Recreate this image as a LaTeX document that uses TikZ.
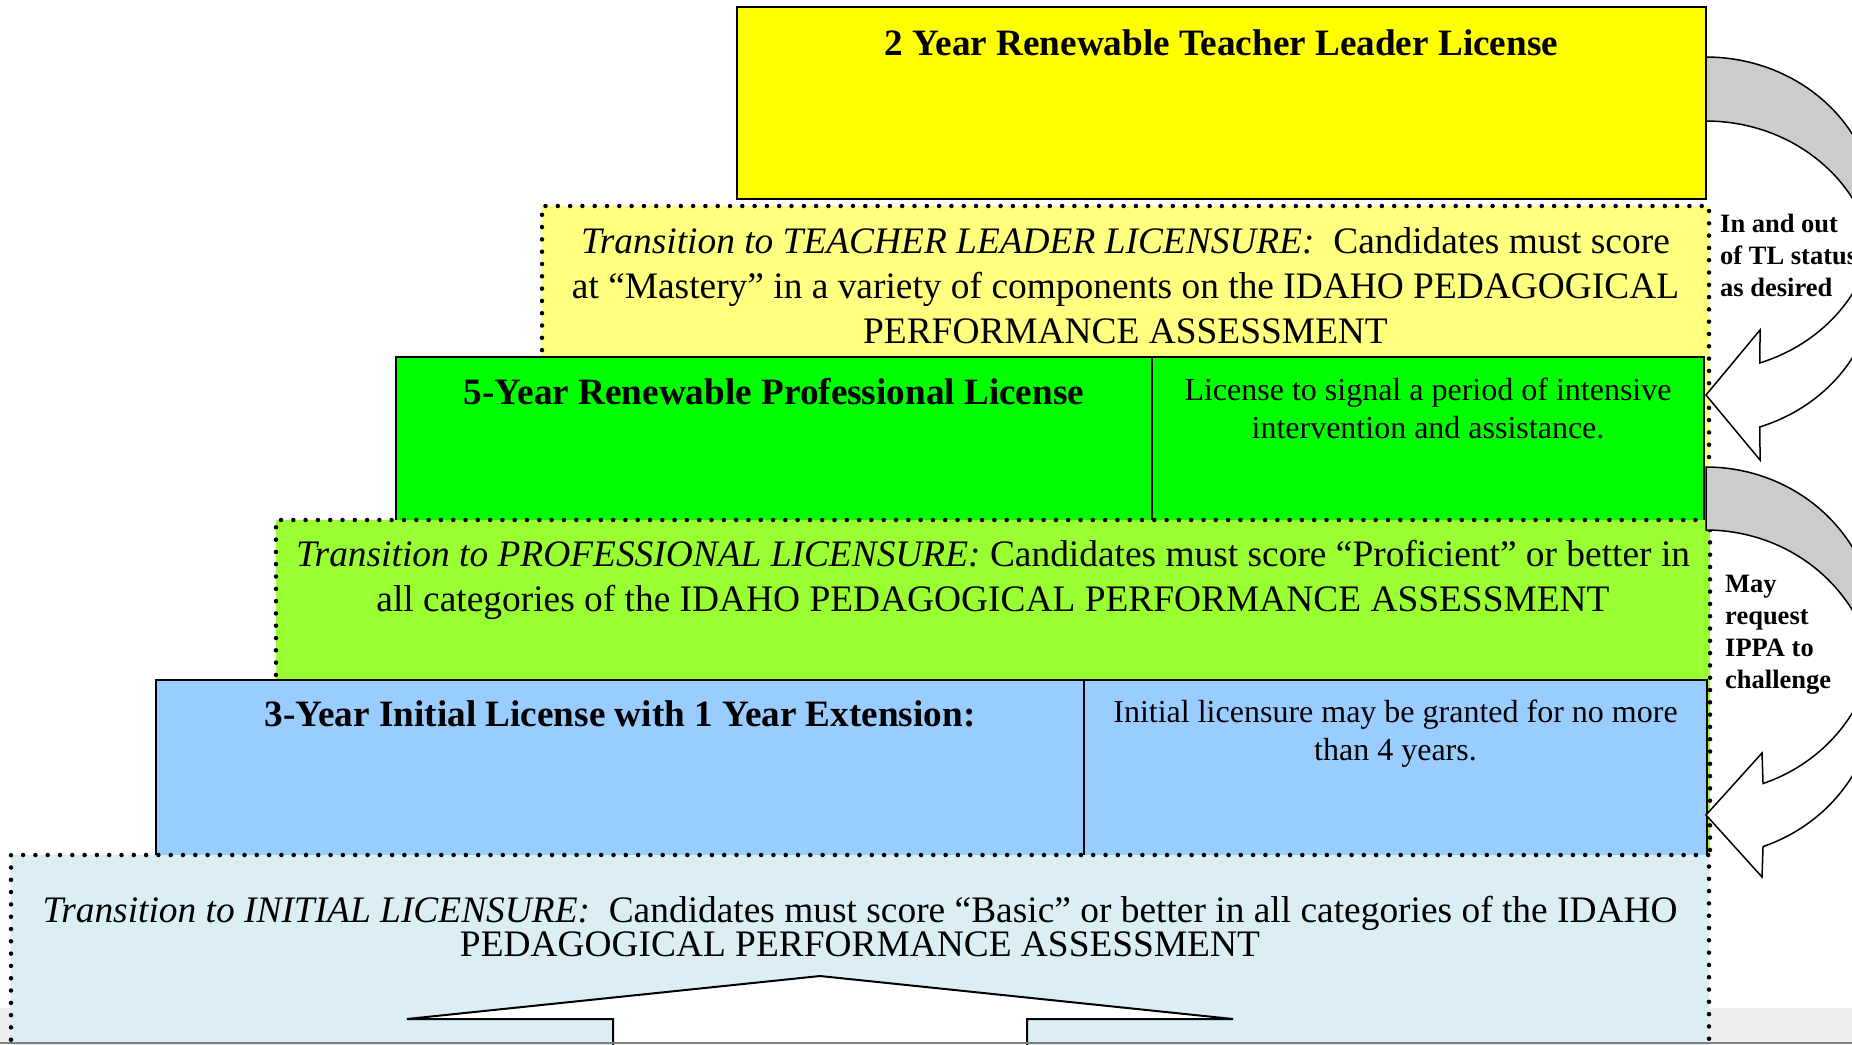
\documentclass[tikz,border=0pt]{standalone}
\usepackage{fontspec}
\setmainfont{Liberation Serif}
\usetikzlibrary{positioning}

\definecolor{tlyellow}{RGB}{255,255,0}
\definecolor{tlpale}{RGB}{255,255,128}
\definecolor{profgreen}{RGB}{0,255,0}
\definecolor{profpale}{RGB}{153,255,51}
\definecolor{initblue}{RGB}{153,204,255}
\definecolor{initpale}{RGB}{219,238,243}
\definecolor{loopgray}{RGB}{204,204,204}
\definecolor{footgray}{RGB}{238,238,238}

\tikzset{
  panel/.style={rectangle, inner sep=0pt, outer sep=0pt, anchor=north west},
  transbox/.style={panel, fill=#1, draw=black, line width=4.5pt,
    dash pattern=on 0pt off 12.3pt, line cap=round},
  edge/.style={line width=2pt},
  title/.style={inner sep=0pt, font=\fontsize{37.2}{44}\selectfont\bfseries},
  body/.style={inner sep=0pt, align=center, font=\fontsize{37.4}{45}\selectfont},
  note/.style={inner sep=0pt, align=center, font=\fontsize{32}{38}\selectfont},
  side/.style={inner sep=0pt, align=left, anchor=north west,
    font=\fontsize{26.5}{32}\selectfont\bfseries},
  loop/.style={draw=black, line width=1.5pt},
}

\begin{document}
\begin{tikzpicture}[x=1pt, y=-1pt]
    \useasboundingbox (0,0) rectangle (1852,1044);
    \clip (0,0) rectangle (1852,1044);
    \fill[footgray] (0,1008) rectangle (1852,1044);

    % teacher leader
    \node[panel, fill=tlyellow, draw=black, line width=2pt, minimum width=969pt, minimum height=192pt] (tl) at (737,7) {};
    \node[title, below=22pt of tl.north] (tltitle) {2 Year Renewable Teacher Leader License};
    \node[transbox=tlpale, minimum width=1167pt, minimum height=314pt] (tltrans) at (542,206) {};
    \node[body, below=21pt of tltrans.north] (tltext) {\textit{Transition to TEACHER LEADER LICENSURE:}~ Candidates must score\\
        at “Mastery” in a variety of components on the IDAHO PEDAGOGICAL\\
        PERFORMANCE ASSESSMENT};

    % professional
    \node[panel, fill=profgreen, minimum width=756pt, minimum height=163pt] (profl) at (396,357) {};
    \node[panel, fill=profgreen, minimum width=552pt, minimum height=163pt] (profr) at (1152,357) {};
    \draw[edge] (profl.south west) |- (profr.north east) -- (profr.south east);
    \draw[edge] (profr.north west) -- (profr.south west);
    \node[title, below=21pt of profl.north] (proftitle) {5-Year Renewable Professional License};
    \node[note, below=21pt of profr.north] (profnote) {License to signal a period of intensive\\ intervention and assistance.};
    \node[transbox=profpale, minimum width=1434pt, minimum height=335pt] (proftrans) at (276,520) {};
    \node[body, below=20pt of proftrans.north] (proftext) {\textit{Transition to PROFESSIONAL LICENSURE:} Candidates must score “Proficient” or better in\\
        all categories of the IDAHO PEDAGOGICAL PERFORMANCE ASSESSMENT};

    % initial
    \node[panel, fill=initblue, minimum width=928pt, minimum height=175pt] (initl) at (156,680) {};
    \node[panel, fill=initblue, minimum width=623pt, minimum height=175pt] (initr) at (1084,680) {};
    \draw[edge] (initl.south west) |- (initr.north east) -- (initr.south east);
    \draw[edge] (initr.north west) -- (initr.south west);
    \node[title, below=20pt of initl.north] (inittitle) {3-Year Initial License with 1 Year Extension:};
    \node[note, below=20pt of initr.north] (initnote) {Initial licensure may be granted for no more\\ than 4 years.};
    \node[transbox=initpale, minimum width=1698pt, minimum height=220pt] (inittrans) at (11,855) {};
    \node[body, font=\fontsize{37.4}{32}\selectfont, below=41pt of inittrans.north] (inittext) {\textit{Transition to INITIAL LICENSURE:}~ Candidates must score “Basic” or better in all categories of the IDAHO\\
        PEDAGOGICAL PERFORMANCE ASSESSMENT};

    % block arrow up
    \draw[fill=white, edge] (613,1060) -- (613,1019) -- (407,1019) -- (820,976) -- (1233,1019) -- (1027,1019) -- (1027,1060);

    % loops on the right
    \draw[loop, fill=loopgray] plot[domain=-90:0, samples=40] ({1706+170*cos(\x)}, {214+157*sin(\x)})
        -- plot[domain=0:-90, samples=40] ({1706+170*cos(\x)}, {278+157*sin(\x)}) -- cycle;
    \draw[loop, fill=white] plot[domain=0:71.5, samples=40] ({1706+170*cos(\x)}, {214+157*sin(\x)})
        -- (1760,330) -- (1706,395) -- (1760,460)
        -- plot[domain=71.5:0, samples=40] ({1706+170*cos(\x)}, {278+157*sin(\x)}) -- cycle;
    \draw[loop, fill=loopgray] plot[domain=-90:0, samples=40] ({1706+170*cos(\x)}, {630+163*sin(\x)})
        -- plot[domain=0:-90, samples=40] ({1706+170*cos(\x)}, {693+163*sin(\x)}) -- cycle;
    \draw[loop, fill=white] plot[domain=0:70.4, samples=40] ({1706+170*cos(\x)}, {630+163*sin(\x)})
        -- (1762,753) -- (1706,815) -- (1762,877)
        -- plot[domain=70.4:0, samples=40] ({1706+170*cos(\x)}, {693+163*sin(\x)}) -- cycle;

    \node[side] (tlside) at (1720,214) {In and out\\ of TL status\\ as desired};
    \node[side] (ippaside) at (1725,575) {May\\ request\\ IPPA to\\ challenge};

    \draw[gray, line width=2pt] (0,1043) -- (1852,1043);
\end{tikzpicture}
\end{document}
